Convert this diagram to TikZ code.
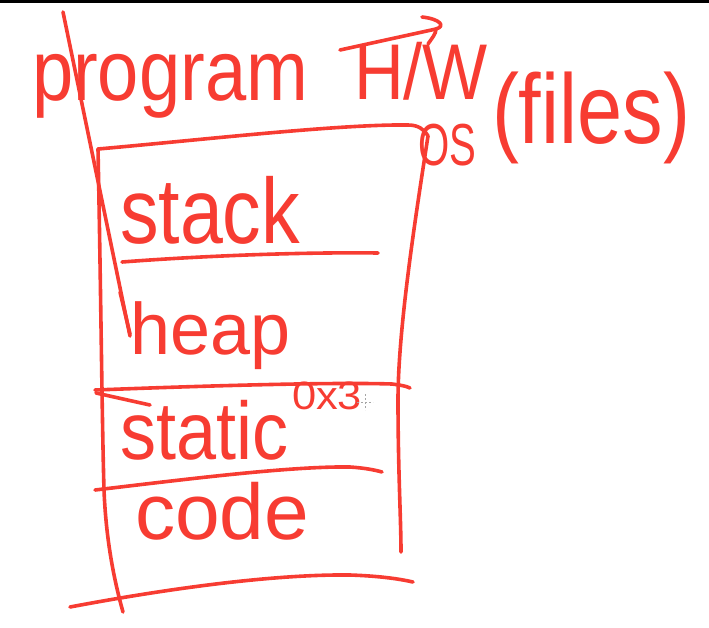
\documentclass[tikz,border=0pt]{standalone}
\usepackage{fontspec}
\newfontfamily\hand{Liberation Sans}
\definecolor{ink}{RGB}{247,60,50}
\begin{document}
\begin{tikzpicture}[x=1pt,y=-1pt,
  pen/.style={draw=ink,line width=3.6pt,line cap=round,line join=round},
  word/.style={inner sep=0pt,outer sep=0pt,text=ink,anchor=north west,font=\hand}]
\useasboundingbox (0,0) rectangle (709,627);
\fill[black] (0,0) rectangle (709,2.5);

% labels
\node[word] (program) at (32,54)  {\resizebox*{276pt}{64pt}{program}};
\node[word] (hw)      at (354,42) {\resizebox*{134pt}{58pt}{H/W}};
\node[word] (os)      at (418,124){\resizebox*{58pt}{42pt}{OS}};
\node[word] (files)   at (492,72) {\resizebox*{198pt}{92pt}{(files)}};
\node[word] (stack)   at (120,176){\resizebox*{180pt}{68pt}{stack}};
\node[word] (heap)    at (130,302){\resizebox*{160pt}{68pt}{heap}};
\node[word] (static)  at (120,400){\resizebox*{168pt}{60pt}{static}};
\node[word] (addr)    at (292,382){\resizebox*{70pt}{28pt}{0x3}};
\node[word] (code)    at (135,482){\resizebox*{174pt}{58pt}{code}};

% arrow from the program to the hardware
\coordinate (pgTail) at (340,50);
\coordinate (hwTip)  at (436,29);
\draw[pen] (pgTail) -- (hwTip);
\draw[pen] (422,17) .. controls (440,19) and (446,26) .. (hwTip)
                    .. controls (436,34) and (432,38) .. (428,44);

% memory block outline
\coordinate (tl) at (98,149);
\coordinate (tr) at (428,136);
\coordinate (br) at (401,552);
\coordinate (bl) at (123,612);
\draw[pen] (tl) .. controls (200,140) and (340,124) .. (408,125)
               .. controls (418,125) and (424,129) .. (tr);
\draw[pen] (tr) .. controls (415,220) and (398,330) .. (398,400)
               .. controls (398,470) and (401,520) .. (br);
\draw[pen] (tl) .. controls (101,300) and (102,420) .. (104,490)
               .. controls (106,540) and (114,580) .. (bl);

% section dividers
\draw[pen] (122,262) .. controls (200,256) and (300,252) .. (378,253);
\draw[pen] (95,390) .. controls (200,386) and (330,382) .. (392,384)
               .. controls (400,385) and (406,386) .. (410,388);
\draw[pen] (96,393) -- (150,405);
\draw[pen] (95,490) .. controls (180,480) and (290,466) .. (350,467)
               .. controls (365,468) and (375,470) .. (382,472);
\draw[pen] (70,607) .. controls (160,590) and (270,574) .. (350,575)
               .. controls (380,576) and (400,579) .. (413,582);

% pointer drawn from the top into the heap
\coordinate (ptrTail) at (63,12);
\draw[pen] (ptrTail) -- (heap.west);
\draw[pen] (120,292) -- (130,334);

% mouse cursor
\draw[gray!70,line width=0.8pt,dash pattern=on 2pt off 2pt]
  (357,402) -- (373,402) (365,394) -- (365,410);
\end{tikzpicture}
\end{document}
